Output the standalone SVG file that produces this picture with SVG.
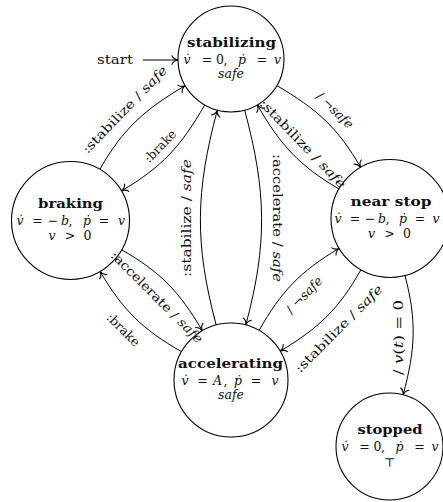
<svg xmlns="http://www.w3.org/2000/svg" width="443" height="502" viewBox="0 0 443 502">
<style>
.t{font-family:"DejaVu Serif","Liberation Serif",serif;font-size:12.5px;fill:#111;}
.b{font-weight:bold;}
.i{font-style:italic;}
.node circle{fill:#fff;stroke:#000;stroke-width:1.1;}
.edge{fill:none;stroke:#000;stroke-width:1;marker-end:url(#ah);}
</style>
<defs>
<marker id="ah" viewBox="-7 -5 8 10" refX="0" refY="0" markerWidth="8" markerHeight="10" markerUnits="userSpaceOnUse" orient="auto" overflow="visible">
<path d="M-6,-4.2 C-5,-1.8 -2.2,-0.4 0,0 C-2.2,0.4 -5,1.8 -6,4.2" fill="none" stroke="#000" stroke-width="1.1" stroke-linecap="round" stroke-linejoin="round"/>
</marker>
</defs>

<g id="connectors">
<path class="edge" d="M143,60 L178,60"/>
<path class="edge" d="M99.8,169.3 C123.1,128.7 144.8,109.2 185.2,85.7"/>
<path class="edge" d="M204.7,105 C181.4,145.6 161.9,167.3 121.5,190.8"/>
<path class="edge" d="M121.7,249.8 C160.5,272 179.8,292.1 202.3,330.7"/>
<path class="edge" d="M181.5,351.7 C142.7,329.5 122.7,310.1 100.2,271.5"/>
<path class="edge" d="M216.2,325 C194.4,243.7 195.5,191.5 217.3,110.2"/>
<path class="edge" d="M244.7,110.2 C266.5,191.5 267.6,243.7 245.8,325"/>
<path class="edge" d="M276.8,85.6 C316.4,108.6 337.8,127.6 360.6,167.3"/>
<path class="edge" d="M338.9,188.9 C299.3,165.9 280.2,144.7 257.4,105"/>
<path class="edge" d="M259.1,330.4 C281.2,291.3 300.4,271.2 339.1,248.4"/>
<path class="edge" d="M360.9,269.8 C338.8,308.9 318.8,328.3 280.1,351.1"/>
<path class="edge" d="M405,275.6 C416.9,320.8 415.4,349.8 403.1,394.9"/>
</g>

<g id="stabilizing" class="node">
<circle cx="231" cy="59" r="53"/>
<text class="t b" x="231.5" y="46.5" text-anchor="middle" textLength="89" lengthAdjust="spacingAndGlyphs">stabilizing</text>
<text class="t" y="63.5" text-anchor="middle"><tspan class="i" x="187">v̇</tspan><tspan x="207">=</tspan><tspan x="220">0</tspan><tspan x="225.5">,</tspan><tspan class="i" x="242">ṗ</tspan><tspan x="262">=</tspan><tspan class="i" x="277.5">v</tspan></text>
<text class="t i" x="231" y="78" text-anchor="middle">safe</text>
</g>

<g id="braking" class="node">
<circle cx="70.5" cy="220.5" r="59"/>
<text class="t b" x="70.5" y="208" text-anchor="middle" textLength="65" lengthAdjust="spacingAndGlyphs">braking</text>
<text class="t" y="225" text-anchor="middle"><tspan class="i" x="20">v̇</tspan><tspan x="37.5">=</tspan><tspan x="53">−</tspan><tspan class="i" x="65">b</tspan><tspan x="70.5">,</tspan><tspan class="i" x="87">ṗ</tspan><tspan x="104">=</tspan><tspan class="i" x="121.5">v</tspan></text>
<text class="t" y="239.5" text-anchor="middle"><tspan class="i" x="52">v</tspan><tspan x="70">&gt;</tspan><tspan x="87.5">0</tspan></text>
</g>

<g id="near-stop" class="node">
<circle cx="390" cy="218.5" r="59"/>
<text class="t b" x="391" y="206" text-anchor="middle" textLength="81" lengthAdjust="spacingAndGlyphs">near stop</text>
<text class="t" y="223" text-anchor="middle"><tspan class="i" x="338">v̇</tspan><tspan x="355">=</tspan><tspan x="370">−</tspan><tspan class="i" x="382">b</tspan><tspan x="387.5">,</tspan><tspan class="i" x="403">ṗ</tspan><tspan x="420">=</tspan><tspan class="i" x="436">v</tspan></text>
<text class="t" y="237.5" text-anchor="middle"><tspan class="i" x="371.5">v</tspan><tspan x="389.5">&gt;</tspan><tspan x="407">0</tspan></text>
</g>

<g id="accelerating" class="node">
<circle cx="231" cy="380" r="57"/>
<text class="t b" x="230.5" y="367.5" text-anchor="middle" textLength="105" lengthAdjust="spacingAndGlyphs">accelerating</text>
<text class="t" y="384.5" text-anchor="middle"><tspan class="i" x="185">v̇</tspan><tspan x="202.5">=</tspan><tspan class="i" x="217.5">A</tspan><tspan x="225.5">,</tspan><tspan class="i" x="238">ṗ</tspan><tspan x="256">=</tspan><tspan class="i" x="275">v</tspan></text>
<text class="t i" x="231" y="399" text-anchor="middle">safe</text>
</g>

<g id="stopped" class="node">
<circle cx="389.5" cy="446.5" r="53.5"/>
<text class="t b" x="390" y="434" text-anchor="middle" textLength="65" lengthAdjust="spacingAndGlyphs">stopped</text>
<text class="t" y="451" text-anchor="middle"><tspan class="i" x="345">v̇</tspan><tspan x="364.5">=</tspan><tspan x="377.5">0</tspan><tspan x="383">,</tspan><tspan class="i" x="399.5">ṗ</tspan><tspan x="419.5">=</tspan><tspan class="i" x="435">v</tspan></text>
<text class="t" x="390" y="467" text-anchor="middle">⊤</text>
</g>

<g id="edge-labels">
<text class="t" x="115" y="63.5" text-anchor="middle" textLength="36" lengthAdjust="spacingAndGlyphs">start</text>
<text class="t" transform="translate(124.5,109.5) rotate(-46)" y="4.5" text-anchor="middle" textLength="116" lengthAdjust="spacingAndGlyphs">:stabilize / <tspan class="i">safe</tspan></text>
<text class="t" transform="translate(160,146) rotate(-46)" y="4.5" text-anchor="middle" textLength="40" lengthAdjust="spacingAndGlyphs">:brake</text>
<text class="t" transform="translate(157,297) rotate(45)" y="4.5" text-anchor="middle" textLength="124" lengthAdjust="spacingAndGlyphs">:accelerate / <tspan class="i">safe</tspan></text>
<text class="t" transform="translate(123.5,329.5) rotate(45)" y="4.5" text-anchor="middle" textLength="41" lengthAdjust="spacingAndGlyphs">:brake</text>
<text class="t" transform="translate(186,218) rotate(-90)" y="4.5" text-anchor="middle" textLength="118" lengthAdjust="spacingAndGlyphs">:stabilize / <tspan class="i">safe</tspan></text>
<text class="t" transform="translate(277,218) rotate(90)" y="4.5" text-anchor="middle" textLength="128" lengthAdjust="spacingAndGlyphs">:accelerate / <tspan class="i">safe</tspan></text>
<text class="t" transform="translate(335,110) rotate(44)" y="4.5" text-anchor="middle" textLength="46" lengthAdjust="spacingAndGlyphs">/ <tspan class="i">¬safe</tspan></text>
<text class="t" transform="translate(303,143.5) rotate(46)" y="4.5" text-anchor="middle" textLength="118" lengthAdjust="spacingAndGlyphs">:stabilize / <tspan class="i">safe</tspan></text>
<text class="t" transform="translate(304,295) rotate(-46)" y="4.5" text-anchor="middle" textLength="46" lengthAdjust="spacingAndGlyphs">/ <tspan class="i">¬safe</tspan></text>
<text class="t" transform="translate(338.5,328.5) rotate(-45)" y="4.5" text-anchor="middle" textLength="118" lengthAdjust="spacingAndGlyphs">:stabilize / <tspan class="i">safe</tspan></text>
<text class="t" transform="translate(398.5,337.5) rotate(-90)" y="4.5" text-anchor="middle" textLength="75" lengthAdjust="spacingAndGlyphs">/ <tspan class="i">v</tspan>(<tspan class="i">t</tspan>) = 0</text>
</g>
</svg>
